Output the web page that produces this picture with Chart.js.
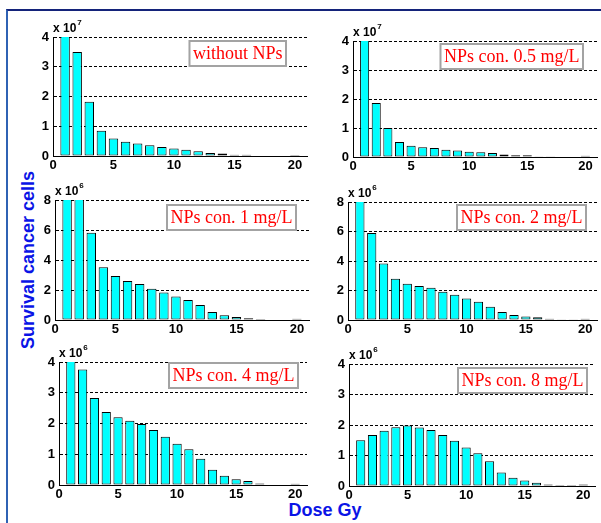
<!DOCTYPE html>
<html>
<head>
<meta charset="utf-8">
<script src="https://cdn.jsdelivr.net/npm/chart.js@4.4.0/dist/chart.umd.min.js"></script>
<style>
  body { margin: 0; background: #fff; }
  #page { position: relative; width: 601px; height: 523px; overflow: hidden; background: #fff; }
  #frame { position: absolute; left: 6px; top: 9px; width: 600px; height: 520px;
           border-top: 2px solid #14237a; border-left: 2px solid #2f62b4; }
  canvas { position: absolute; }
  .axis-title { position: absolute; font: bold 18px "Liberation Sans", Arial, sans-serif;
                color: #0a14e6; white-space: nowrap; }
  #ytitle { left: 28px; top: 260px; transform: translate(-50%, -50%) rotate(-90deg); }
  #xtitle { left: 325px; top: 510px; transform: translate(-50%, -50%); }
</style>
</head>
<body>
<div id="page">
  <div id="frame"></div>
  <div class="axis-title" id="ytitle">Survival cancer cells</div>
  <div class="axis-title" id="xtitle">Dose Gy</div>
</div>
<script>
// dose steps (Gy) on the x axis
const doses = [1, 2, 3, 4, 5, 6, 7, 8, 9, 10, 11, 12, 13, 14, 15, 16, 17, 18, 19, 20];
const doseTicks = [0, 5, 10, 15, 20];

// surviving cells, in units of the panel multiplier (x 10^7 or x 10^6)
const withoutNPs = [7.0, 3.5, 1.82, 0.85, 0.59, 0.48, 0.42, 0.36, 0.30, 0.25, 0.21, 0.16, 0.10, 0.08, 0.04, 0.04, 0.02, 0.02, 0.02, 0.03];
const nps05 = [6.0, 1.86, 1.0, 0.52, 0.39, 0.34, 0.31, 0.25, 0.22, 0.18, 0.16, 0.14, 0.09, 0.06, 0.06, 0.03, 0.03, 0.02, 0.02, 0.04];
const nps1 = [14, 9.0, 5.82, 3.51, 2.93, 2.6, 2.4, 2.09, 1.84, 1.56, 1.33, 1.0, 0.53, 0.31, 0.2, 0.11, 0.07, 0.04, 0.04, 0.09];
const nps2 = [12, 5.9, 3.83, 2.79, 2.45, 2.3, 2.18, 1.91, 1.71, 1.46, 1.24, 0.9, 0.54, 0.34, 0.23, 0.18, 0.09, 0.05, 0.05, 0.09];
const nps4 = [4.6, 3.76, 2.83, 2.37, 2.2, 2.09, 1.98, 1.79, 1.57, 1.34, 1.16, 0.85, 0.5, 0.3, 0.19, 0.13, 0.05, 0.02, 0.02, 0.04];
const nps8 = [1.5, 1.67, 1.81, 1.93, 1.98, 1.92, 1.84, 1.67, 1.48, 1.26, 1.07, 0.81, 0.44, 0.27, 0.18, 0.11, 0.05, 0.03, 0.03, 0.05];

const labels = ['without NPs', 'NPs con. 0.5 mg/L', 'NPs con. 1 mg/L', 'NPs con. 2 mg/L', 'NPs con. 4 mg/L', 'NPs con. 8 mg/L'];
const series = [withoutNPs, nps05, nps1, nps2, nps4, nps8];
const exponents = [7, 7, 6, 6, 6, 6];
const yTicks = [[0, 1, 2, 3, 4], [0, 1, 2, 3, 4], [0, 2, 4, 6, 8], [0, 2, 4, 6, 8], [0, 1, 2, 3, 4], [0, 1, 2, 3, 4]];

// plot area of each panel on the page, and where its label box sits
const layout = [
  { left: 53,  top: 37,  bottom: 156, right: 307, boxRight: 21, boxTop: 4 },
  { left: 353, top: 41,  bottom: 157, right: 597, boxRight: 14, boxTop: 3 },
  { left: 55,  top: 200, bottom: 320, right: 309, boxRight: 13, boxTop: 5 },
  { left: 348, top: 202, bottom: 320, right: 597, boxRight: 11, boxTop: 3 },
  { left: 59,  top: 362, bottom: 485, right: 307, boxRight: 9,  boxTop: 1 },
  { left: 349, top: 364, bottom: 486, right: 595, boxRight: 8,  boxTop: 4 }
];

const SANS = '"Liberation Sans", Arial, sans-serif';
const SERIF = '"Liberation Serif", "Times New Roman", serif';
const Y_W = 26, X_H = 20, PAD_TOP = 24, PAD_RIGHT = 2;

// multiplier above the y axis and the boxed red caption
const panelText = {
  id: 'panelText',
  afterDraw(chart, args, opts) {
    const { ctx, chartArea: a } = chart;
    ctx.save();
    ctx.fillStyle = '#000';
    ctx.textAlign = 'left';
    ctx.textBaseline = 'alphabetic';
    ctx.font = 'bold 12px ' + SANS;
    const base = a.top - 5;
    ctx.fillText('x 10', a.left, base);
    const w = ctx.measureText('x 10').width;
    ctx.font = 'bold 8px ' + SANS;
    ctx.fillText(String(opts.exponent), a.left + w + 1, base - 7);

    ctx.font = '18px ' + SERIF;
    const tw = ctx.measureText(opts.label).width;
    const bw = tw + 7, bh = 25;
    const bx = a.right - opts.boxRight - bw, by = a.top + opts.boxTop;
    ctx.fillStyle = '#fff';
    ctx.fillRect(bx, by, bw, bh);
    ctx.strokeStyle = '#a3a3a3';
    ctx.lineWidth = 2;
    ctx.strokeRect(bx, by, bw, bh);
    ctx.fillStyle = '#ff0000';
    ctx.textBaseline = 'middle';
    ctx.fillText(opts.label, bx + 3.5, by + bh / 2 + 1);
    ctx.restore();
  }
};

const page = document.getElementById('page');

layout.forEach((p, i) => {
  const canvas = document.createElement('canvas');
  const cx = p.left - Y_W, cy = p.top - PAD_TOP;
  canvas.width = p.right - cx + PAD_RIGHT;
  canvas.height = p.bottom - cy + X_H;
  canvas.style.left = cx + 'px';
  canvas.style.top = cy + 'px';
  page.appendChild(canvas);

  const ticks = yTicks[i];
  const tickFont = { family: SANS, size: 13, weight: 'bold' };

  new Chart(canvas, {
    type: 'bar',
    data: {
      datasets: [{
        data: doses.map((d, k) => ({ x: d, y: series[i][k] })),
        backgroundColor: '#00ffff',
        borderColor: '#000',
        borderWidth: 1,
        borderSkipped: false,
        barPercentage: 0.78,
        categoryPercentage: 1
      }]
    },
    options: {
      responsive: false,
      animation: false,
      devicePixelRatio: 1,
      layout: { padding: { top: PAD_TOP, right: PAD_RIGHT, left: 0, bottom: 0 } },
      plugins: {
        legend: { display: false },
        tooltip: { enabled: false },
        panelText: { label: labels[i], exponent: exponents[i], boxRight: p.boxRight, boxTop: p.boxTop }
      },
      scales: {
        x: {
          type: 'linear',
          min: 0,
          max: 21,
          offset: false,
          grid: { display: false, drawTicks: false },
          border: { color: '#000', width: 1 },
          afterBuildTicks: s => { s.ticks = doseTicks.map(v => ({ value: v })); },
          afterFit: s => { s.height = X_H; },
          ticks: { color: '#000', font: tickFont, padding: 2, maxRotation: 0, autoSkip: false }
        },
        y: {
          min: 0,
          max: ticks[ticks.length - 1],
          grid: {
            color: c => (c.tick && c.tick.value === 0) ? 'rgba(0,0,0,0)' : '#000',
            lineWidth: 1,
            drawTicks: false
          },
          border: { color: '#000', width: 1, dash: [3, 2] },
          afterBuildTicks: s => { s.ticks = ticks.map(v => ({ value: v })); },
          afterFit: s => { s.width = Y_W; },
          ticks: { color: '#000', font: tickFont, padding: 4 }
        }
      }
    },
    plugins: [panelText]
  });
});
</script>
</body>
</html>
